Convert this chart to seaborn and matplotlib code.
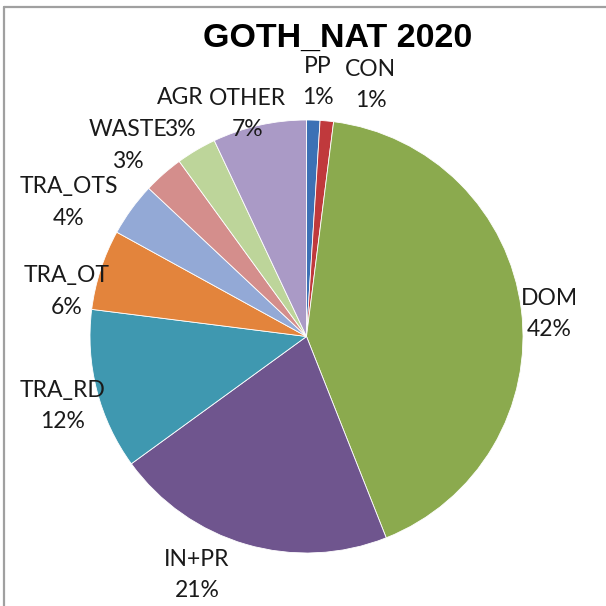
import matplotlib
matplotlib.use("Agg")
import matplotlib.pyplot as plt
import seaborn as sns
from matplotlib.lines import Line2D

# ---- data ----
categories = ["PP", "CON", "DOM", "IN+PR", "TRA_RD", "TRA_OT", "TRA_OTS", "WASTE", "AGR", "OTHER"]
shares = [1, 1, 42, 21, 12, 6, 4, 3, 3, 7]
pct_labels = ["1%", "1%", "42%", "21%", "12%", "6%", "4%", "3%", "3%", "7%"]
title = "GOTH_NAT 2020"

# ---- style ----
sns.set_theme(style="white")
plt.rcParams['font.family'] = ['Lato', 'DejaVu Sans']
colors = sns.color_palette(["#3C71B5", "#C0393C", "#8BAA4E", "#6F558E", "#3F98B0",
                            "#E3843C", "#93A9D6", "#D48E8C", "#BDD59A", "#AA9AC6"])

W = H = 606
fig = plt.figure(figsize=(W / 100, H / 100), dpi=100)
fig.patch.set_facecolor("white")

cx, cy, r = 306.5, 336.5, 216.5
ax = fig.add_axes([(cx - r) / W, (H - cy - r) / H, 2 * r / W, 2 * r / H])
ax.pie(shares, colors=colors, startangle=90, counterclock=False, radius=1,
       wedgeprops=dict(edgecolor="white", linewidth=0.6))
ax.set_xlim(-1, 1)
ax.set_ylim(-1, 1)
ax.set_aspect("equal")
ax.axis("off")

# label positions (layout, in pie-radius units relative to the centre)
label_pos = [(0.051, 1.176), (0.296, 1.162), (1.12, 0.104), (-0.506, -1.102),
             (-1.125, -0.321), (-1.107, 0.208), (-1.098, 0.619), (-0.825, 0.882),
             (-0.585, 1.030), (-0.272, 1.028)]
for cat, pct, (lx, ly) in zip(categories, pct_labels, label_pos):
    ax.text(lx, ly, f"{cat}\n{pct}", ha="center", va="center", fontsize=16.5,
            color="#1a1a1a", linespacing=1.62, clip_on=False)

fig.text(338 / W, 1 - 47 / H, title, ha="center", va="baseline", fontsize=24.5,
         fontweight="bold", family=["Liberation Sans", "DejaVu Sans"], color="black")

# frame (top and left edges visible)
fig.add_artist(Line2D([4 / W, 4 / W], [0, 1 - 7 / H], transform=fig.transFigure,
                      color="#a0a0a0", linewidth=1.6))
fig.add_artist(Line2D([4 / W, 1], [1 - 7 / H, 1 - 7 / H], transform=fig.transFigure,
                      color="#a0a0a0", linewidth=1.6))

fig.savefig("out.png", dpi=100, facecolor="white")
